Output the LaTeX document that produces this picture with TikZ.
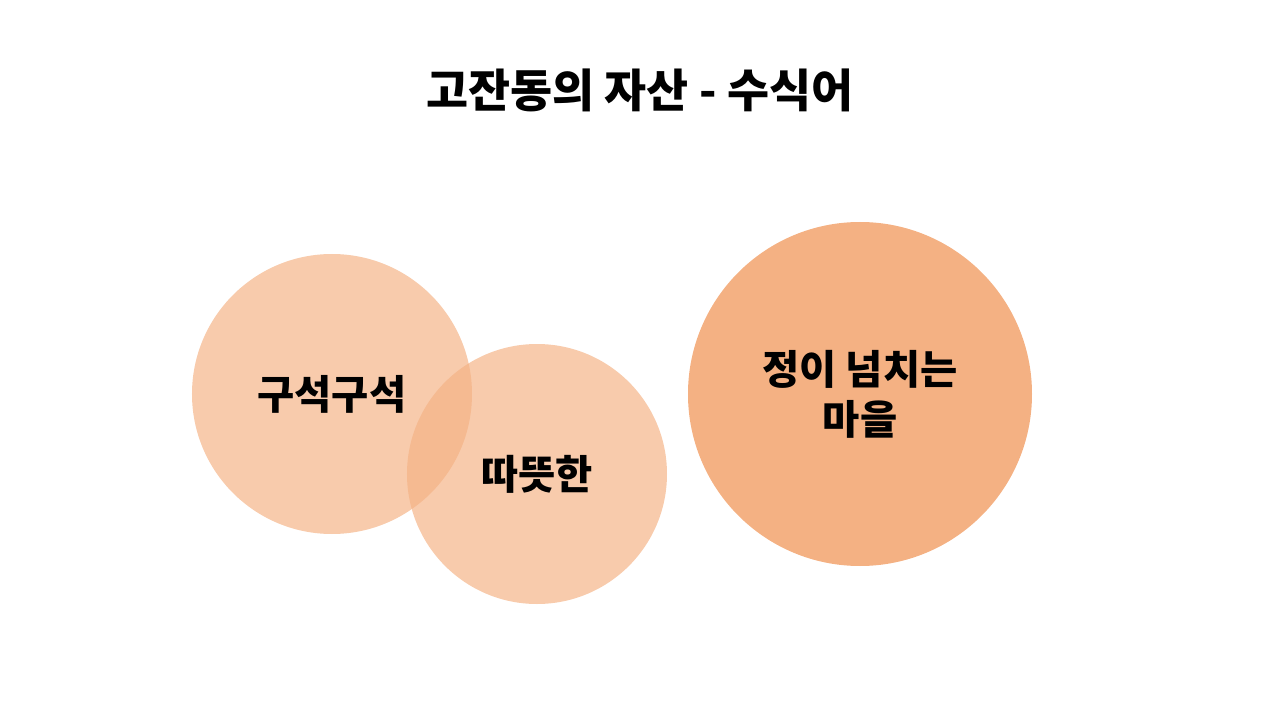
\documentclass[tikz,border=0pt]{standalone}
\usepackage{fontspec}
\newfontfamily\kr{Noto Sans CJK KR}
\usepackage{tikz}
\definecolor{peach}{RGB}{244,177,131}
\usetikzlibrary{positioning}

\begin{document}
\begin{tikzpicture}[
          bubble/.style={
              circle,
              fill=peach,
              fill opacity=0.67,
              text opacity=1,
              inner sep=0pt
            },
          word/.style={
              font=\kr\fontsize{23pt}{28.5pt}\selectfont\bfseries,
              align=center
            }
        ]
        \useasboundingbox (-12.8,-7.2) rectangle (12.8,7.2);
        \node[font=\kr\fontsize{26pt}{30pt}\selectfont\bfseries] (title) at (0,5.4) {고잔동의 자산 - 수식어};

        \node[bubble, minimum size=5.6cm] (nook) at (-6.16,-0.68) {};
        \node[bubble, minimum size=5.2cm] (warm) at (-2.06,-2.28) {};
        \node[bubble, minimum size=6.88cm, fill opacity=1] (village) at (4.4,-0.68) {};

        \node[word] (nooktext) at (nook) {구석구석};
        \node[word] (warmtext) at (warm) {따뜻한};
        \node[word] (villagetext) at (village) {정이 넘치는\\마을};
      \end{tikzpicture}
\end{document}
